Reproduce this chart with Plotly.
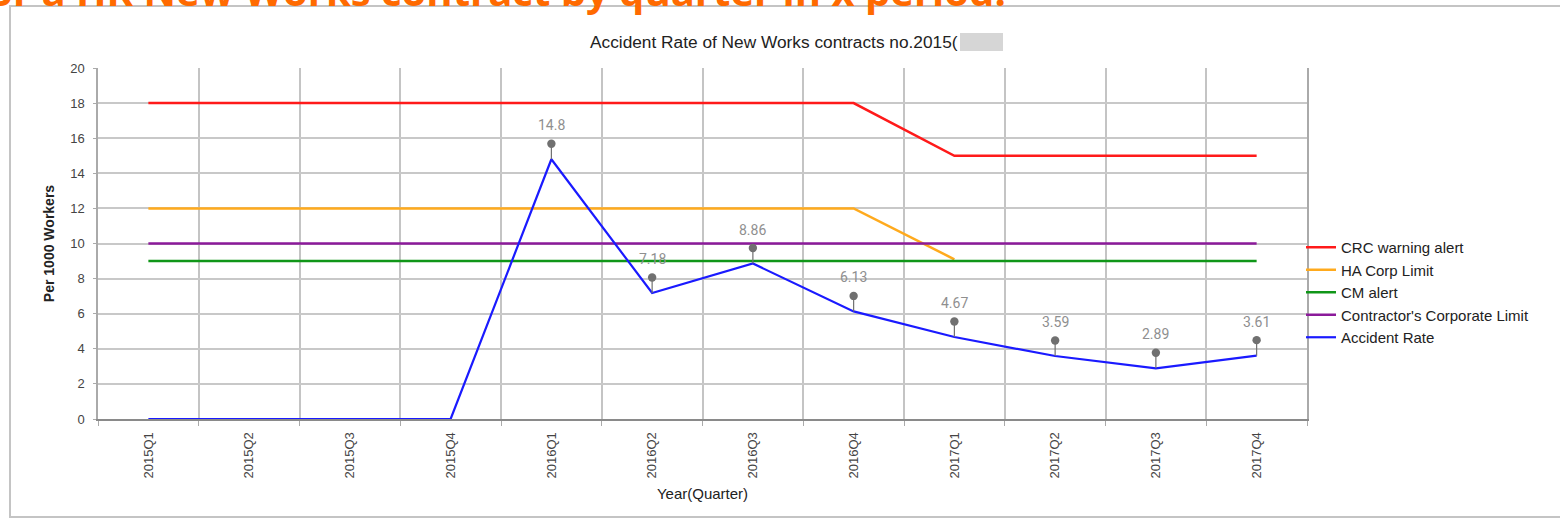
import plotly.graph_objects as go

quarters = ["2015Q1", "2015Q2", "2015Q3", "2015Q4", "2016Q1", "2016Q2",
            "2016Q3", "2016Q4", "2017Q1", "2017Q2", "2017Q3", "2017Q4"]
crc_warning = [18, 18, 18, 18, 18, 18, 18, 18, 15, 15, 15, 15]
ha_corp_limit = [12, 12, 12, 12, 12, 12, 12, 12, 9.1, None, None, None]
cm_alert = [9, 9, 9, 9, 9, 9, 9, 9, 9, 9, 9, 9]
contractor_limit = [10, 10, 10, 10, 10, 10, 10, 10, 10, 10, 10, 10]
accident_rate = [0, 0, 0, 0, 14.8, 7.18, 8.86, 6.13, 4.67, 3.59, 2.89, 3.61]
accident_labels = ["", "", "", "", "14.8", "7.18", "8.86", "6.13", "4.67", "3.59", "2.89", "3.61"]

FONT = "Liberation Sans, Arial, sans-serif"
W, H = 1560, 520
L, R, T, B = 98, 253, 68, 101
PW, PH = W - L - R, H - T - B


def px_x(px):
    return (px - L) / PW


def px_y(py):
    return (H - B - py) / PH


fig = go.Figure()
series = [
    ("CRC warning alert", crc_warning, "#ff1a1a", 2.5),
    ("HA Corp Limit", ha_corp_limit, "#ffaa1d", 2.5),
    ("CM alert", cm_alert, "#109618", 2.5),
    ("Contractor's Corporate Limit", contractor_limit, "#8b1a9a", 2.5),
    ("Accident Rate", accident_rate, "#1a1aff", 2.2),
]
for name, vals, color, w in series:
    fig.add_trace(go.Scatter(x=quarters, y=vals, name=name, mode="lines",
                             line=dict(color=color, width=w),
                             connectgaps=False, hoverinfo="x+y+name"))

annotations = []
for q, v, lab in zip(quarters, accident_rate, accident_labels):
    if not lab:
        continue
    # stem + dot
    annotations.append(dict(x=q, y=v, xref="x", yref="y", text="",
                            showarrow=True, ax=0, ay=-17, arrowside="start",
                            startarrowhead=6, startarrowsize=1.75,
                            arrowwidth=1.2, arrowcolor="#707070"))
    # value label
    annotations.append(dict(x=q, y=v, xref="x", yref="y", text=lab,
                            showarrow=False, yshift=34,
                            font=dict(family="Roboto, " + FONT, size=14, color="#8f8f8f")))

# chart title
annotations.append(dict(x=px_x(588), y=px_y(42), xref="paper", yref="paper",
                        xanchor="left", yanchor="middle", showarrow=False,
                        text="Accident Rate of New Works contracts no.2015(",
                        font=dict(family=FONT, size=17.3, color="#222222")))
# page heading (cropped at the top in the source screenshot)
annotations.append(dict(x=px_x(1008), y=px_y(-9), xref="paper", yref="paper",
                        xanchor="right", yanchor="middle", showarrow=False,
                        text="Accident rate for a HK New Works contract by quarter in x period.",
                        font=dict(family="Open Sans, sans-serif", size=40, color="#ff6a00",
                                  weight="bold")))

shapes = [
    # outer chart frame
    dict(type="rect", xref="paper", yref="paper", x0=px_x(10), x1=px_x(1570),
         y0=px_y(517), y1=px_y(6), line=dict(color="#c4c4c4", width=2),
         fillcolor="rgba(0,0,0,0)", layer="below"),
    # redaction box after the title
    dict(type="rect", xref="paper", yref="paper", x0=px_x(960), x1=px_x(1003),
         y0=px_y(51), y1=px_y(33), line=dict(width=0), fillcolor="#d6d6d6"),
]

fig.update_layout(
    width=W, height=H,
    margin=dict(l=L, r=R, t=T, b=B, pad=0),
    paper_bgcolor="white", plot_bgcolor="white",
    font=dict(family=FONT, color="#444444"),
    showlegend=True,
    legend=dict(x=px_x(1301), y=px_y(231), xanchor="left", yanchor="top",
                font=dict(family=FONT, size=15, color="#222222"),
                bgcolor="rgba(0,0,0,0)", itemwidth=30, tracegroupgap=0),
    annotations=annotations,
    shapes=shapes,
    xaxis=dict(type="category", categoryorder="array", categoryarray=quarters,
               range=[-0.5, len(quarters) - 0.5],
               tickson="boundaries", ticks="outside", ticklen=5, tickcolor="#aaaaaa",
               showgrid=True, gridcolor="#c4c4c4", gridwidth=1.5,
               showline=True, linecolor="#8a8a8a", linewidth=2,
               tickangle=-90, ticklabelstandoff=6,
               tickfont=dict(family=FONT, size=13, color="#444444"),
               title=dict(text="Year(Quarter)", standoff=11,
                          font=dict(family=FONT, size=15, color="#222222")),
               zeroline=False, fixedrange=True),
    yaxis=dict(range=[0, 20], dtick=2, tick0=0,
               ticks="outside", ticklen=3, tickcolor="#aaaaaa",
               showgrid=True, gridcolor="#c8c8c8", gridwidth=1.5,
               showline=True, linecolor="#aaaaaa", linewidth=1.5, mirror=True,
               zeroline=False, ticklabelstandoff=6,
               tickfont=dict(family=FONT, size=13, color="#444444"),
               title=dict(text="<b>Per 1000 Workers</b>", standoff=12,
                          font=dict(family=FONT, size=14, color="#222222")),
               fixedrange=True),
)

fig.write_html("out.html")
